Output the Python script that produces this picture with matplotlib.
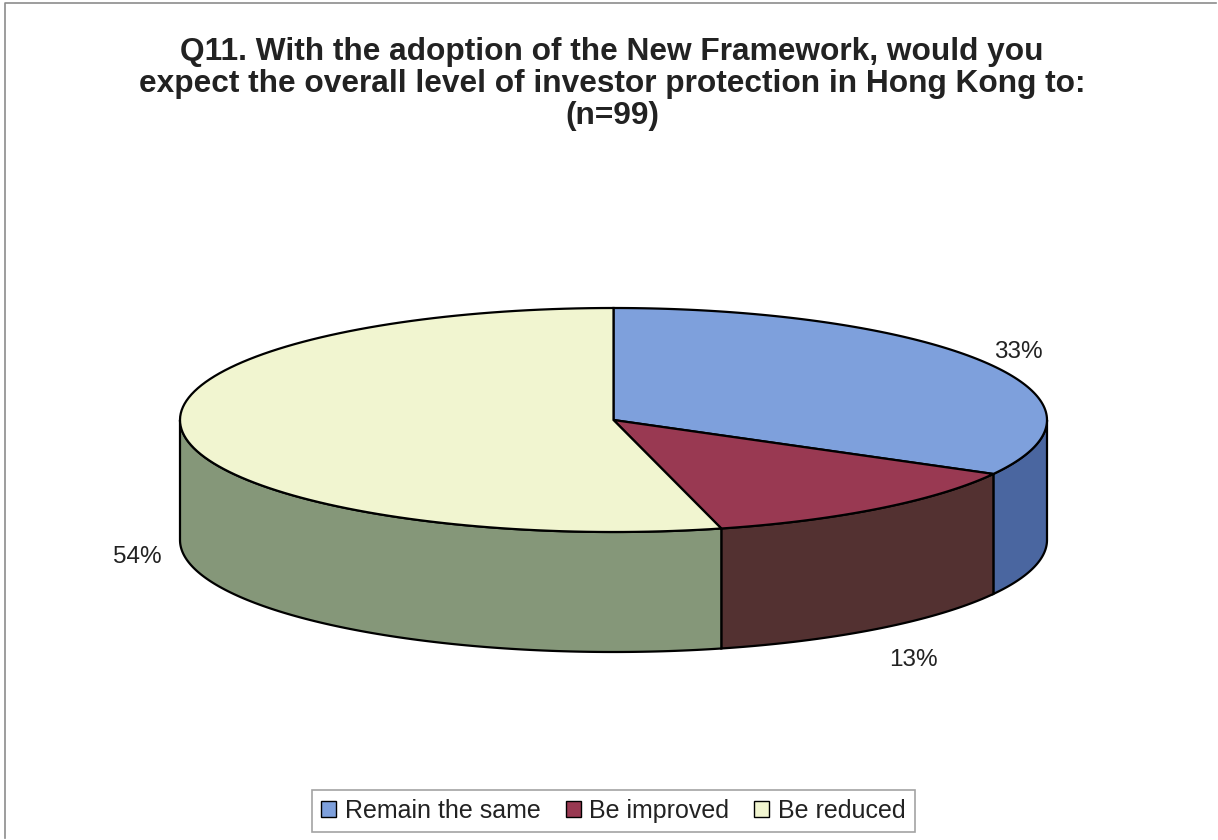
import numpy as np
import matplotlib.pyplot as plt
from matplotlib.patches import Polygon, Patch

plt.rcParams['font.family'] = ['Liberation Sans', 'DejaVu Sans']

# survey answers, percent of respondents
categories = ['Remain the same', 'Be improved', 'Be reduced']
values = [33, 13, 54]
labels = ['33%', '13%', '54%']

title = ('Q11. With the adoption of the New Framework, would you\n'
         'expect the overall level of investor protection in Hong Kong to:\n'
         '(n=99)')

top_colors = ['#7EA0DC', '#993952', '#F1F5D0']
side_colors = ['#4A66A0', '#533131', '#859779']

# pie geometry in pixel units
cx, cy = 613.5, 420
rx, ry = 433.5, 112
depth = 120
label_pos = [(1018, 352), (913, 660), (137, 557)]


def rim(t1, t2, dy=0.0, n=120):
    # angles in degrees, clockwise from 12 o'clock
    t = np.radians(np.linspace(t1, t2, n))
    return np.column_stack((cx + rx * np.sin(t), cy - ry * np.cos(t) + dy))


fig = plt.figure(figsize=(12.18, 8.4), dpi=100)
ax = fig.add_axes([0, 0, 1, 1])
ax.set_xlim(0, 1218)
ax.set_ylim(840, 0)
ax.axis('off')

# chart border (left and top edges only)
ax.plot([5, 5, 1216], [838, 3, 3], color='#8c8c8c', lw=1.2)

frac = np.array(values, dtype=float) / np.sum(values)
edges = np.concatenate(([0.0], np.cumsum(frac) * 360))

# outer walls on the front half
for i in range(len(values)):
    a1 = max(edges[i], 90)
    a2 = min(edges[i + 1], 270)
    if a2 <= a1:
        continue
    pts = np.vstack((rim(a1, a2), rim(a2, a1, depth)))
    ax.add_patch(Polygon(pts, closed=True, facecolor=side_colors[i],
                         edgecolor='black', lw=1.6, zorder=2))

# top faces
for i in range(len(values)):
    pts = np.vstack(([[cx, cy]], rim(edges[i], edges[i + 1])))
    ax.add_patch(Polygon(pts, closed=True, facecolor=top_colors[i],
                         edgecolor='black', lw=1.6, zorder=3))

for (x, y), txt in zip(label_pos, labels):
    ax.text(x, y, txt, fontsize=17.5, ha='center', va='center', color='#222222')

ax.text(612, 84, title, fontsize=22.8, fontweight='bold', ha='center',
        va='center', linespacing=1.1, color='#222222')

handles = [Patch(facecolor=c, edgecolor='black', lw=1.0) for c in top_colors]
leg = fig.legend(handles, categories, loc='center', ncol=3,
                 bbox_to_anchor=(0.5037, 0.0345), fontsize=18,
                 frameon=True, fancybox=False, edgecolor='#8c8c8c',
                 handlelength=0.6, handleheight=0.6, handletextpad=0.35,
                 columnspacing=1.0, borderpad=0.35)
leg.get_frame().set_linewidth(1.2)
for t in leg.get_texts():
    t.set_color('#222222')

fig.savefig('out.png', dpi=100)
